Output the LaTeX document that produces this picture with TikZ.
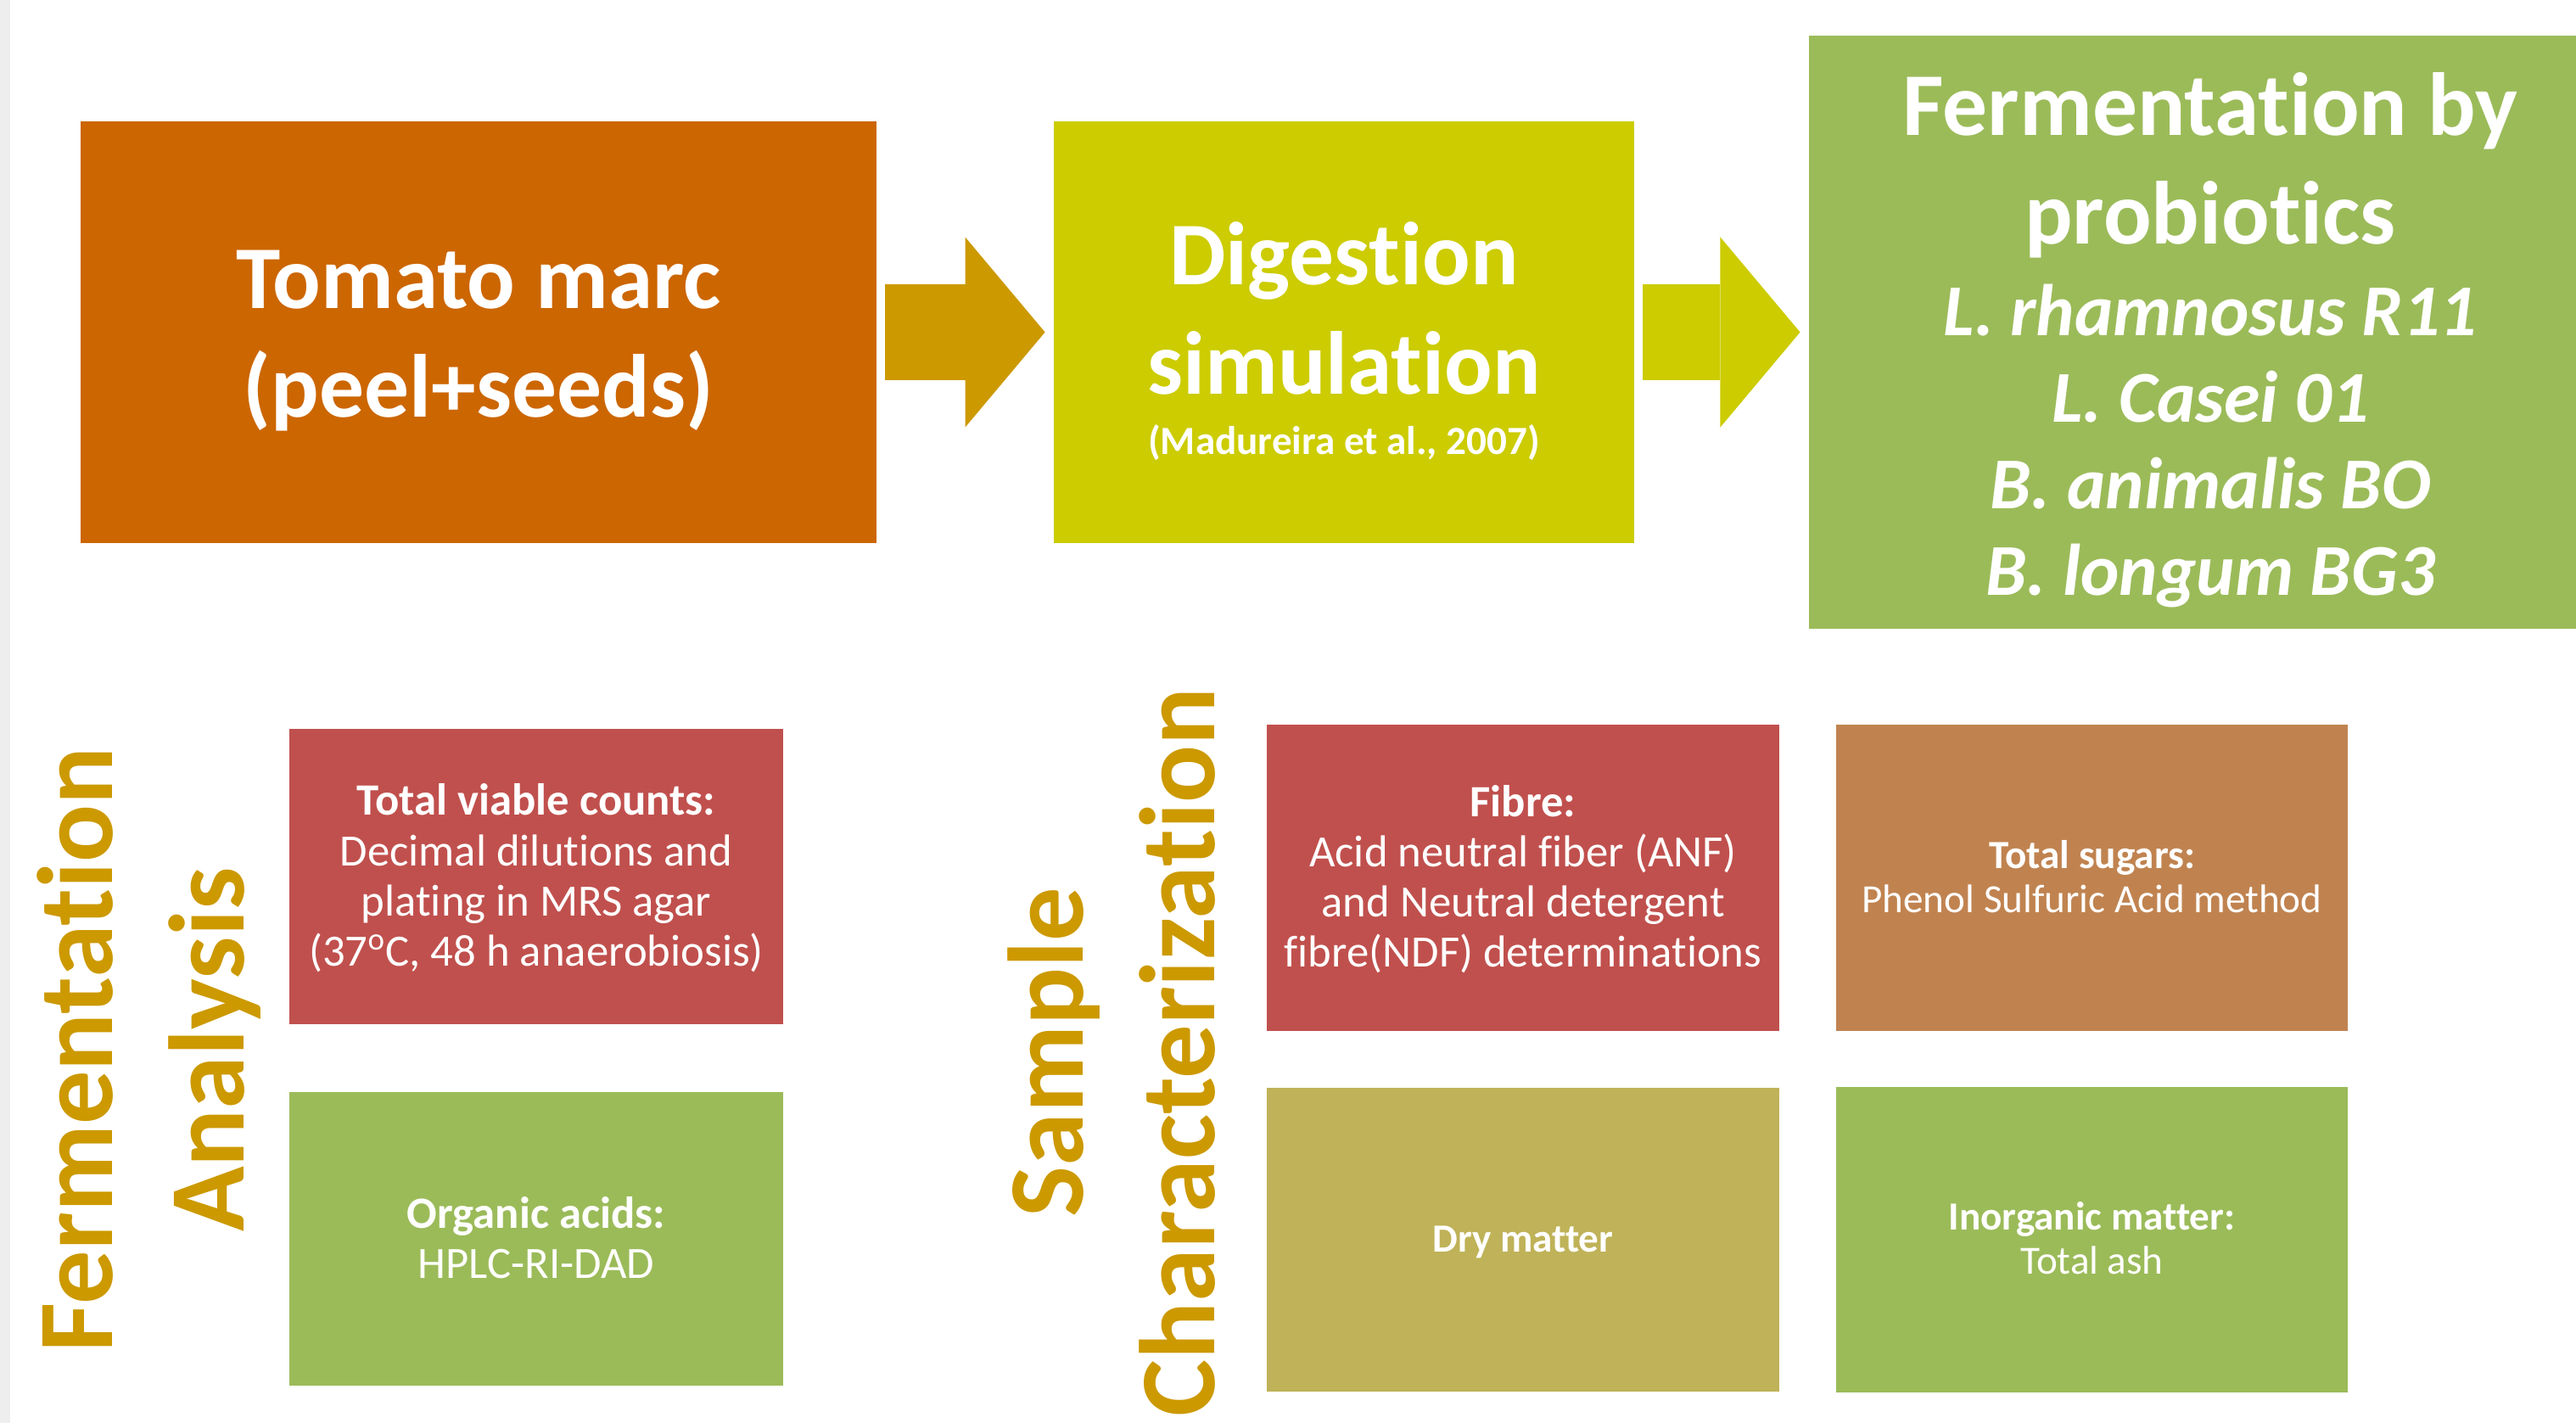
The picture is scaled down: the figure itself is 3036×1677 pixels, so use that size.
\documentclass[tikz,border=0pt]{standalone}
\usepackage{fontspec}
\setmainfont{Carlito}[RawFeature={-liga}]
\usetikzlibrary{arrows.meta}

\definecolor{marc}{RGB}{204,102,0}
\definecolor{gold}{RGB}{204,153,0}
\definecolor{lemon}{RGB}{204,204,0}
\definecolor{leaf}{RGB}{155,187,89}
\definecolor{brick}{RGB}{192,80,77}
\definecolor{caramel}{RGB}{192,131,80}
\definecolor{mustard}{RGB}{191,178,88}
\definecolor{strip}{RGB}{238,238,238}

% line strut and line spacing
\newcommand\ls{\rule[-.22\baselineskip]{0pt}{\baselineskip}}
\newcommand\tight{\lineskiplimit=1000pt\lineskip=0pt}
\newcommand\titlesize{\fontsize{30}{36.6}\selectfont}
\newcommand\strainsize{\fontsize{24.5}{29}\selectfont}
\newcommand\citesize{\fontsize{13.4}{15.8}\selectfont}
\newcommand\boxsize{\fontsize{15}{16.8}\selectfont}
\newcommand\notesize{\fontsize{13.4}{14.8}\selectfont}
\newcommand\headsize{\fontsize{36}{44}\selectfont}

\begin{document}
\begin{tikzpicture}[x=0.01cm, y=-0.01cm,
box/.style={fill=#1, text=white, inner sep=0pt, align=center},
big/.style={font=\tight\titlesize\bfseries},
small/.style={font=\tight\boxsize},
note/.style={font=\tight\notesize},
heading/.style={text=gold, inner sep=0pt, align=center, rotate=90, font=\tight\headsize\bfseries},
flow/.style={line width=1.13cm, -{Triangle[length=0.94cm, width=2.24cm, line width=0pt]}, shorten <=0.095cm, shorten >=0.095cm}]

\useasboundingbox (0,0) rectangle (3036,1677);
\fill[strip] (0,0) rectangle (12,1677);

\node[box=marc, big, minimum width=9.38cm, minimum height=4.97cm] (tomato) at (564,391.5) {Tomato marc\ls\\(peel+seeds)\ls};
\node[box=lemon, big, minimum width=6.84cm, minimum height=4.97cm] (digest) at (1584,391.5) {Digestion\ls\\simulation\ls\\{\citesize (Madureira et al., 2007)\ls}};
\node[box=leaf, big, minimum width=9.46cm, minimum height=6.99cm] (ferm) at (2605,391.5) {Fermentation by\ls\\probiotics\ls\\{\strainsize\itshape L. rhamnosus R11\ls}\\{\strainsize\itshape L. Casei 01\ls}\\{\strainsize\itshape B. animalis BO\ls}\\{\strainsize\itshape B. longum BG3\ls}};

\draw[flow, draw=gold]  (tomato.east) -- (digest.west);
\draw[flow, draw=lemon] (digest.east) -- (ferm.west);

%%%%%%%%%%%%
\node[heading] (fermana) at (167,1237) {Fermentation\ls\\Analysis\ls};
\node[heading] (samplechar) at (1311,1240) {Sample\ls\\Characterization\ls};

\node[box=brick, small, minimum width=5.82cm, minimum height=3.48cm] (viable) at (632,1033) {{\bfseries Total viable counts:}\ls\\Decimal dilutions and\ls\\plating in MRS agar\ls\\(37\textsuperscript{o}C, 48 h anaerobiosis)\ls};
\node[box=leaf, small, minimum width=5.82cm, minimum height=3.46cm] (acids) at (632,1460) {{\bfseries Organic acids:}\ls\\HPLC-RI-DAD\ls};

\node[box=brick, small, minimum width=6.04cm, minimum height=3.61cm] (fibre) at (1795,1034.5) {{\bfseries Fibre:}\ls\\Acid neutral fiber (ANF)\ls\\and Neutral detergent\ls\\fibre(NDF) determinations\ls};
\node[box=mustard, note, minimum width=6.04cm, minimum height=3.58cm] (drymat) at (1795,1461) {{\bfseries Dry matter}\ls};

\node[box=caramel, note, minimum width=6.03cm, minimum height=3.61cm] (sugars) at (2465.5,1034.5) {{\bfseries Total sugars:}\ls\\Phenol Sulfuric Acid method\ls};
\node[box=leaf, note, minimum width=6.03cm, minimum height=3.60cm] (inorg) at (2465.5,1461) {{\bfseries Inorganic matter:}\ls\\Total ash\ls};
\end{tikzpicture}
\end{document}
